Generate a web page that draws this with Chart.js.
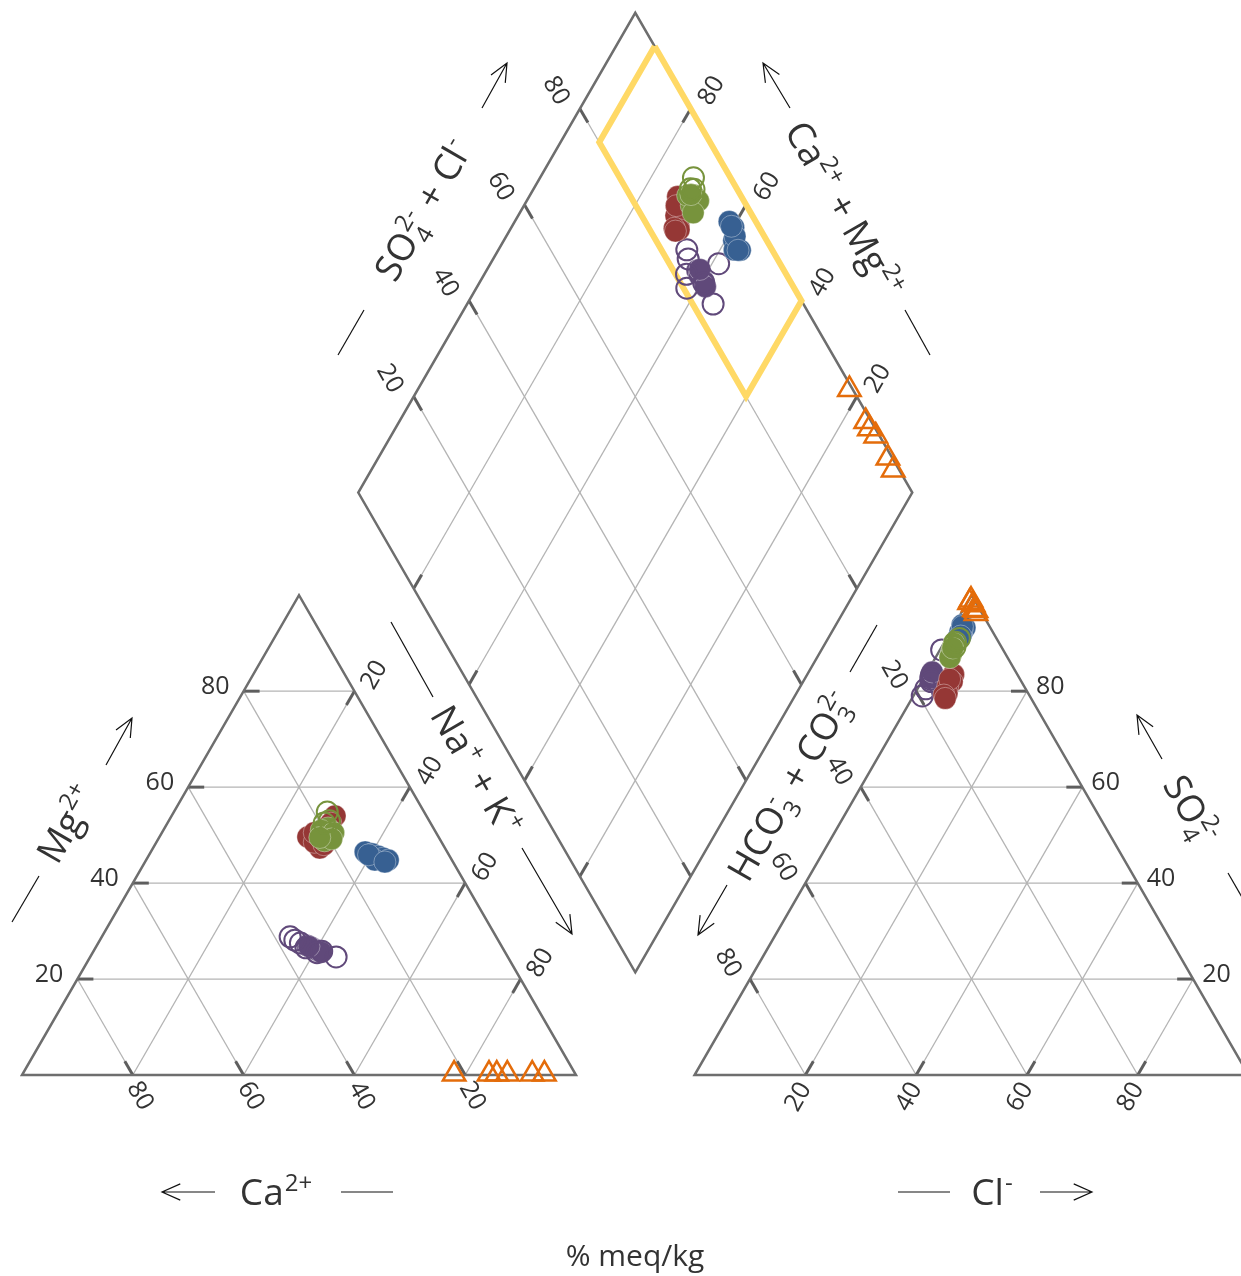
<!DOCTYPE html>
<html><head><meta charset="utf-8">
<script src="https://cdn.jsdelivr.net/npm/chart.js@4"></script>
<style>html,body{margin:0;padding:0;background:#fff;}#wrap{position:relative;width:1241px;height:1276px;}</style>
</head><body><div id="wrap"><canvas id="c"></canvas></div>
<script>
// ---------- DATA (% meq/kg) ----------
const tickValues = [20, 40, 60, 80];
// each row: [Ca, Mg, Na+K, HCO3+CO3, SO4, Cl]
const greenFilled = [
  [20.0, 50.0, 30.0, 9.3, 88.5, 2.2],
  [19.0, 51.5, 29.5, 8.5, 89.5, 2.0],
  [21.0, 48.8, 30.2, 10.0, 87.5, 2.5],
  [20.5, 51.0, 28.5, 9.6, 88.0, 2.4],
  [18.5, 50.5, 31.0, 8.2, 90.0, 1.8],
  [19.5, 49.2, 31.3, 10.4, 87.0, 2.6],
  [21.5, 49.5, 29.0, 8.9, 89.0, 2.1]
];
const greenHollow = [
  [17.5, 54.8, 27.7, 6.7, 91.0, 2.3],
  [18.0, 53.0, 29.0, 7.8, 90.2, 2.0],
  [19.2, 52.5, 28.3, 8.4, 89.2, 2.4]
];
const redFilled = [
  [23.6, 49.6, 26.8, 11.5, 83.5, 5.0],
  [16.5, 54.0, 29.5, 12.5, 82.0, 5.5],
  [22.6, 47.3, 30.1, 14.4, 80.0, 5.6],
  [23.0, 48.5, 28.5, 13.8, 81.0, 5.2],
  [21.5, 48.0, 30.5, 14.7, 79.5, 5.8],
  [22.0, 50.5, 27.5, 12.7, 82.5, 4.8],
  [18.0, 52.5, 29.5, 15.4, 79.2, 5.4],
  [21.0, 49.0, 30.0, 15.5, 78.5, 6.0]
];
const blueFilled = [
  [14.8, 46.5, 38.7, 4.8, 93.8, 1.4],
  [13.8, 46.1, 40.1, 4.6, 93.2, 2.2],
  [12.9, 45.6, 41.5, 5.95, 92.3, 1.75],
  [12.2, 45.2, 42.6, 6.85, 91.1, 2.05],
  [11.5, 44.8, 43.7, 5.8, 92.0, 2.2],
  [13.9, 44.8, 41.3, 5.3, 92.8, 1.9],
  [14.5, 45.9, 39.6, 4.9, 93.5, 1.6],
  [12.3, 44.4, 43.3, 6.2, 91.5, 2.3]
];
const purpleHollow = [
  [37.2, 28.8, 34.0, 15.4, 83.5, 1.1],
  [36.7, 28.1, 35.2, 16.1, 82.5, 1.4],
  [31.0, 24.6, 44.4, 16.3, 82.0, 1.7],
  [33.0, 25.8, 41.2, 11.1, 88.6, 0.3],
  [35.5, 26.5, 38.0, 19.4, 79.0, 1.6],
  [36.0, 27.5, 36.5, 18.0, 80.5, 1.5],
  [34.0, 25.5, 40.5, 15.8, 83.0, 1.2]
];
const purpleFilled = [
  [35.0, 27.0, 38.0, 15.7, 83.3, 1.0],
  [34.5, 26.6, 38.9, 15.8, 83.0, 1.2],
  [33.7, 26.0, 40.3, 15.6, 83.4, 1.0],
  [33.2, 25.6, 41.2, 15.9, 82.8, 1.3],
  [34.8, 26.8, 38.4, 15.1, 84.0, 0.9]
];
const orangeTriangles = [
  [21.9, 0.2, 77.9, 0.6, 99.0, 0.4],
  [15.6, 0.2, 84.2, 1.0, 97.0, 2.0],
  [14.2, 0.2, 85.6, 1.1, 96.2, 2.7],
  [12.3, 0.2, 87.5, 0.7, 98.0, 1.3],
  [7.8, 0.2, 92.0, 0.8, 96.8, 2.4],
  [5.6, 0.2, 94.2, 1.1, 98.5, 0.4]
];
// yellow field in the diamond: SO4+Cl range and Ca+Mg range
const yellowSO4Cl = [80, 100];
const yellowCaMg = [40, 93];

// ---------- GEOMETRY ----------
const PX = 5.54;          // pixels per percent
const GAP = 21.4;         // gap between triangles, in percent units
const SQ = Math.sqrt(3) / 2;
const XMIN = -22 / PX, XMAX = XMIN + 1241 / PX;
const YMAX = 1075 / PX, YMIN = YMAX - 1276 / PX;

function cat(ca, mg, na) { const s = ca + mg + na; ca *= 100 / s; mg *= 100 / s; na *= 100 / s; return { x: na + mg / 2, y: mg * SQ }; }
function ani(hc, so, cl) { const s = hc + so + cl; so *= 100 / s; cl *= 100 / s; return { x: 100 + GAP + cl + so / 2, y: so * SQ }; }
function dia(a, c) { return { x: 100 + GAP / 2 + (a - c) / 2, y: GAP * SQ + (a + c) * SQ }; }
function pts(rows) {
  const out = [];
  rows.forEach(r => {
    const cs = r[0] + r[1] + r[2], as = r[3] + r[4] + r[5];
    out.push(cat(r[0], r[1], r[2]));
    out.push(ani(r[3], r[4], r[5]));
    out.push(dia((r[4] + r[5]) * 100 / as, (r[0] + r[1]) * 100 / cs));
  });
  return out;
}

const GREEN = '#77933C', RED = '#953735', BLUE = '#376092', PURPLE = '#60497A', ORANGE = '#E46C0A', YELLOW = '#FFD966';
const TXT = '#333333', FRAME = '#6e6e6e', GRID = '#b4b4b4', TICKC = '#5e5e5e';

const yellowPts = [
  dia(yellowSO4Cl[1], yellowCaMg[1]), dia(yellowSO4Cl[0], yellowCaMg[1]),
  dia(yellowSO4Cl[0], yellowCaMg[0]), dia(yellowSO4Cl[1], yellowCaMg[0]),
  dia(yellowSO4Cl[1], yellowCaMg[1])
];

function filled(rows, col) { return { data: pts(rows), pointStyle: 'circle', pointRadius: 11, backgroundColor: col, borderColor: 'rgba(255,255,255,0.35)', borderWidth: 1, clip: false }; }
function hollow(rows, col) { return { data: pts(rows), pointStyle: 'circle', pointRadius: 10.5, backgroundColor: 'rgba(0,0,0,0)', borderColor: col, borderWidth: 2, clip: false }; }

const datasets = [
  { data: pts(orangeTriangles), pointStyle: 'triangle', pointRadius: 13, backgroundColor: 'rgba(0,0,0,0)', borderColor: ORANGE, borderWidth: 2.5, clip: false },
  hollow(greenHollow, GREEN),
  filled(greenFilled, GREEN),
  filled(redFilled, RED),
  filled(blueFilled, BLUE),
  hollow(purpleHollow, PURPLE),
  filled(purpleFilled, PURPLE),
  { type: 'line', data: yellowPts, borderColor: YELLOW, borderWidth: 6, pointRadius: 0, fill: false, tension: 0, borderJoinStyle: 'miter', showLine: true, clip: false }
];

// ---------- FRAME PLUGIN ----------
const frame = {
  id: 'piperFrame',
  beforeDatasetsDraw(chart) {
    const ctx = chart.ctx, xs = chart.scales.x, ys = chart.scales.y;
    const P = u => ({ x: xs.getPixelForValue(u.x), y: ys.getPixelForValue(u.y) });
    const seg = (a, b, col, w) => { ctx.beginPath(); ctx.moveTo(a.x, a.y); ctx.lineTo(b.x, b.y); ctx.strokeStyle = col; ctx.lineWidth = w; ctx.stroke(); };
    const TL = 16;
    const tick = (e, t) => { const dx = t.x - e.x, dy = t.y - e.y, l = Math.hypot(dx, dy); seg(e, { x: e.x + dx / l * TL, y: e.y + dy / l * TL }, TICKC, 3); };
    const D60 = Math.PI / 3;
    const label = (txt, x, y, rot, align) => {
      ctx.save(); ctx.translate(x, y); ctx.rotate(rot); ctx.textAlign = align || 'center'; ctx.textBaseline = 'middle';
      ctx.font = '25px "Open Sans", sans-serif'; ctx.fillStyle = TXT; ctx.fillText(txt, 0, 0); ctx.restore();
    };
    ctx.save();
    ctx.lineCap = 'butt';
    const ticks = [];
    const labels = [];
    tickValues.forEach(v => {
      // cation triangle
      let a = P(cat(100 - v, v, 0)), b = P(cat(0, v, 100 - v)); seg(a, b, GRID, 1.3); ticks.push([a, b]);
      labels.push([String(v), a.x - 14, a.y - 4, 0, 'right']);
      a = P(cat(v, 0, 100 - v)); b = P(cat(v, 100 - v, 0)); seg(a, b, GRID, 1.3); ticks.push([a, b]);
      labels.push([String(v), a.x + 7, a.y + 21, D60]);
      a = P(cat(0, 100 - v, v)); b = P(cat(100 - v, 0, v)); seg(a, b, GRID, 1.3); ticks.push([a, b]);
      labels.push([String(v), a.x + 20, a.y - 16, -D60]);
      // anion triangle
      a = P(ani(0, v, 100 - v)); b = P(ani(100 - v, v, 0)); seg(a, b, GRID, 1.3); ticks.push([a, b]);
      labels.push([String(v), a.x + 9, a.y - 4, 0, 'left']);
      a = P(ani(100 - v, 0, v)); b = P(ani(0, 100 - v, v)); seg(a, b, GRID, 1.3); ticks.push([a, b]);
      labels.push([String(v), a.x - 7, a.y + 22, -D60]);
      a = P(ani(v, 100 - v, 0)); b = P(ani(v, 0, 100 - v)); seg(a, b, GRID, 1.3); ticks.push([a, b]);
      labels.push([String(v), a.x - 22, a.y - 16, D60]);
      // diamond
      a = P(dia(v, 100)); b = P(dia(v, 0)); seg(a, b, GRID, 1.3); ticks.push([a, b]); ticks.push([b, a]);
      labels.push([String(v), a.x - 24, a.y - 18, D60]);
      a = P(dia(100, v)); b = P(dia(0, v)); seg(a, b, GRID, 1.3); ticks.push([a, b]); ticks.push([b, a]);
      labels.push([String(v), a.x + 21, a.y - 18, -D60]);
    });
    ticks.forEach(t => tick(t[0], t[1]));
    // outlines
    const poly = (arr) => { ctx.beginPath(); arr.forEach((p, i) => i ? ctx.lineTo(p.x, p.y) : ctx.moveTo(p.x, p.y)); ctx.closePath(); ctx.strokeStyle = FRAME; ctx.lineWidth = 2.5; ctx.lineJoin = 'miter'; ctx.stroke(); };
    poly([P(cat(100, 0, 0)), P(cat(0, 0, 100)), P(cat(0, 100, 0))]);
    poly([P(ani(100, 0, 0)), P(ani(0, 0, 100)), P(ani(0, 100, 0))]);
    poly([P(dia(0, 0)), P(dia(100, 0)), P(dia(100, 100)), P(dia(0, 100))]);
    labels.forEach(l => label(l[0], l[1], l[2], l[3], l[4]));

    // axis titles
    const rich = (segs, cx, cy, rot, size) => {
      const small = Math.round(size * 0.64);
      const fb = size + 'px "Open Sans", sans-serif', fs = small + 'px "Open Sans", sans-serif';
      const items = []; let w = 0;
      segs.forEach(s => {
        if (typeof s === 'string') { ctx.font = fb; items.push({ t: s, f: fb, x: w, y: 0 }); w += ctx.measureText(s).width; }
        else {
          ctx.font = fs; let mw = 0;
          if (s.sup != null) { items.push({ t: s.sup, f: fs, x: w + 1, y: -size * 0.4 }); mw = Math.max(mw, ctx.measureText(s.sup).width); }
          if (s.sub != null) { items.push({ t: s.sub, f: fs, x: w + 1, y: size * 0.24 }); mw = Math.max(mw, ctx.measureText(s.sub).width); }
          w += mw + 3;
        }
      });
      ctx.save(); ctx.translate(cx, cy); ctx.rotate(rot); ctx.textAlign = 'left'; ctx.textBaseline = 'alphabetic'; ctx.fillStyle = TXT;
      items.forEach(it => { ctx.font = it.f; ctx.fillText(it.t, it.x - w / 2, it.y + size * 0.36); });
      ctx.restore();
    };
    const arrow = (x1, y1, x2, y2, head) => {
      ctx.beginPath(); ctx.moveTo(x1, y1); ctx.lineTo(x2, y2);
      if (head) { const an = Math.atan2(y2 - y1, x2 - x1), L = 20, s = 0.42;
        ctx.moveTo(x2 - L * Math.cos(an - s), y2 - L * Math.sin(an - s)); ctx.lineTo(x2, y2); ctx.lineTo(x2 - L * Math.cos(an + s), y2 - L * Math.sin(an + s)); }
      ctx.strokeStyle = '#111'; ctx.lineWidth = 1.2; ctx.lineJoin = 'miter'; ctx.stroke();
    };
    const T = 37;
    rich(['Mg', { sup: '2+' }], 67, 823, -D60, T);
    arrow(12, 922, 39, 876, false); arrow(106, 765, 132, 718, true);
    rich(['Na', { sup: '+' }, ' + K', { sup: '+' }], 477, 771, D60, T);
    arrow(391, 622, 433, 697, false); arrow(522, 848, 572, 934, true);
    rich(['Ca', { sup: '2+' }], 277, 1192, 0, T);
    arrow(215, 1192, 162, 1192, true); arrow(341, 1192, 393, 1192, false);
    rich(['Cl', { sup: '-' }], 993, 1192, 0, T);
    arrow(898, 1192, 950, 1192, false); arrow(1040, 1192, 1092, 1192, true);
    rich(['SO', { sub: '4', sup: '2-' }, ' + Cl', { sup: '-' }], 423, 209, -D60, T);
    arrow(338, 355, 364, 310, false); arrow(482, 108, 507, 63, true);
    rich(['Ca', { sup: '2+' }, ' + Mg', { sup: '2+' }], 845, 210, D60, T);
    arrow(790, 108, 763, 63, true); arrow(905, 310, 930, 355, false);
    rich(['HCO', { sub: '3', sup: '-' }, ' + CO', { sub: '3', sup: '2-' }], 790, 785, -D60, T);
    arrow(877, 625, 850, 672, false); arrow(727, 885, 698, 935, true);
    rich(['SO', { sub: '4', sup: '2-' }], 1192, 810, D60, T);
    arrow(1162, 759, 1137, 715, true); arrow(1228, 873, 1254, 918, false);
    rich(['% meq/kg'], 635, 1255, 0, 30);
    ctx.restore();
  }
};

new Chart(document.getElementById('c'), {
  type: 'scatter',
  data: { datasets },
  options: {
    responsive: true, maintainAspectRatio: false, animation: false, events: [],
    layout: { padding: 0, autoPadding: false },
    scales: {
      x: { type: 'linear', display: false, min: XMIN, max: XMAX },
      y: { type: 'linear', display: false, min: YMIN, max: YMAX }
    },
    plugins: { legend: { display: false }, tooltip: { enabled: false } }
  },
  plugins: [frame]
});
</script></body></html>
